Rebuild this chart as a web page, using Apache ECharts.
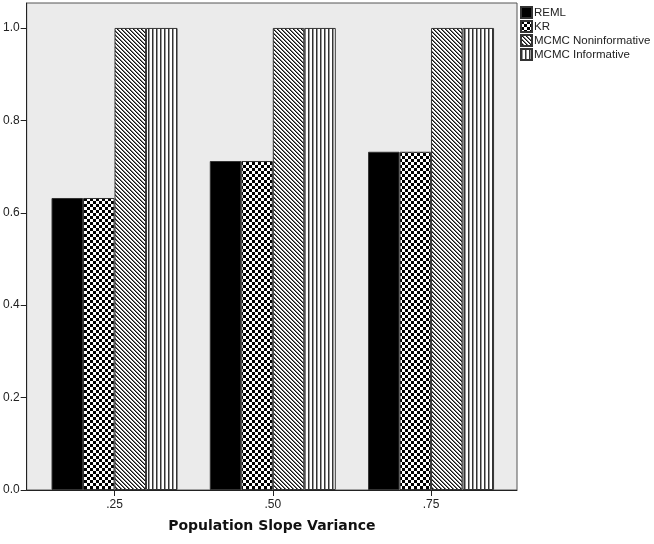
<!DOCTYPE html>
<html>
<head>
<meta charset="utf-8">
<script src="https://cdn.jsdelivr.net/npm/echarts@6/dist/echarts.min.js"></script>
<style>
html,body{margin:0;padding:0;background:#fff;}
#chart{width:654px;height:544px;}
</style>
</head>
<body>
<div id="chart"></div>
<script>
// ---- data ----
var categories = ['.25', '.50', '.75'];
var seriesNames = ['REML', 'KR', 'MCMC Noninformative', 'MCMC Informative'];
var remlValues = [0.632, 0.712, 0.732];
var krValues = [0.632, 0.712, 0.732];
var mcmcNonValues = [1.0, 1.0, 1.0];
var mcmcInfValues = [1.0, 1.0, 1.0];
var yTickValues = [0, 0.2, 0.4, 0.6, 0.8, 1.0];
var xAxisTitle = 'Population Slope Variance';

// ---- patterns ----
function makeTile(w, h, draw) {
  var c = document.createElement('canvas');
  c.width = w; c.height = h;
  var ctx = c.getContext('2d');
  ctx.fillStyle = '#fff';
  ctx.fillRect(0, 0, w, h);
  draw(ctx);
  return c;
}
var checkerTile = makeTile(6, 6, function (ctx) {
  ctx.fillStyle = '#000';
  ctx.fillRect(0, 0, 3, 3);
  ctx.fillRect(3, 3, 3, 3);
});
var diagTile = makeTile(4, 4, function (ctx) {
  ctx.fillStyle = '#111';
  for (var i = 0; i < 4; i++) {
    ctx.fillRect(i, i, 1, 1);
  }
  ctx.fillStyle = '#777';
  for (var j = 0; j < 4; j++) {
    ctx.fillRect((j + 1) % 4, j, 1, 1);
  }
});
var vertTile = makeTile(4, 4, function (ctx) {
  ctx.fillStyle = '#333';
  ctx.fillRect(0, 0, 1, 4);
  ctx.fillStyle = '#999';
  ctx.fillRect(1, 0, 1, 4);
});
var fills = [
  '#000',
  { image: checkerTile, repeat: 'repeat' },
  { image: diagTile, repeat: 'repeat' },
  { image: vertTile, repeat: 'repeat' }
];
var valueLists = [remlValues, krValues, mcmcNonValues, mcmcInfValues];

function toPairs(vals) {
  return vals.map(function (v, i) { return [i + 1, v]; });
}

var series = seriesNames.map(function (name, k) {
  return {
    name: name,
    type: 'bar',
    data: toPairs(valueLists[k]),
    barWidth: 31.5,
    barGap: '0%',
    itemStyle: { color: fills[k], borderColor: '#333', borderWidth: 1 },
    emphasis: { disabled: true },
    silent: true
  };
});

var chart = echarts.init(document.getElementById('chart'), null, { renderer: 'canvas' });
chart.setOption({
  animation: false,
  backgroundColor: '#fff',
  textStyle: { fontFamily: 'Liberation Sans, Arial, sans-serif' },
  grid: {
    left: 26, right: 137, top: 3, bottom: 54,
    show: true, backgroundColor: '#ebebeb', borderColor: '#555', borderWidth: 1
  },
  legend: {
    orient: 'vertical',
    left: 520, top: 6, padding: 0,
    itemWidth: 11, itemHeight: 11, itemGap: 1,
    icon: 'rect',
    textStyle: { fontSize: 11.5, color: '#222', padding: [0, 0, 0, -3] },
    data: seriesNames
  },
  xAxis: {
    type: 'value',
    min: 0.445, max: 3.543,
    splitLine: { show: false },
    axisLine: { show: true, onZero: false, lineStyle: { color: '#222', width: 1 } },
    axisTick: { show: true, length: 6, customValues: [1, 2, 3], lineStyle: { color: '#222' } },
    axisLabel: {
      customValues: [1, 2, 3],
      fontSize: 12, color: '#222', margin: 9,
      formatter: function (v) { return categories[Math.round(v) - 1] || ''; }
    },
    name: xAxisTitle,
    nameLocation: 'middle',
    nameGap: 29,
    nameTextStyle: { fontSize: 14, fontWeight: 'bold', color: '#111', fontFamily: 'DejaVu Sans, sans-serif' }
  },
  yAxis: {
    type: 'value',
    min: 0, max: 1.054,
    splitLine: { show: false },
    axisLine: { show: true, lineStyle: { color: '#222', width: 1 } },
    axisTick: { show: true, length: 6, customValues: yTickValues, lineStyle: { color: '#222' } },
    axisLabel: {
      customValues: yTickValues,
      fontSize: 12, color: '#222', margin: 7,
      formatter: function (v) { return v.toFixed(1); }
    }
  },
  series: series
});
</script>
</body>
</html>
